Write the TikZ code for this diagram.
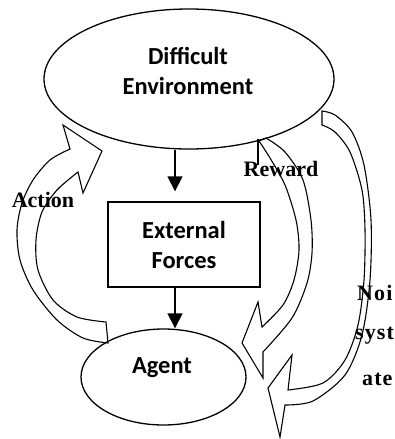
\documentclass[tikz,border=0pt]{standalone}
\usepackage{fontspec}
\setmainfont{Carlito}
\newfontfamily\labfont{Liberation Serif}
\newfontfamily\widefont[LetterSpace=5]{Liberation Serif}
\usetikzlibrary{shapes.geometric,arrows.meta}
\begin{document}
\begin{tikzpicture}[x=1pt,y=-1pt,
  ell/.style={draw, ellipse, line width=1.3pt, inner sep=0pt},
  box/.style={draw, rectangle, line width=1.3pt, inner sep=0pt},
  maintext/.style={font=\bfseries\fontsize{24.5}{30}\selectfont, align=center, inner sep=0pt},
  lab/.style={font=\labfont\bfseries\fontsize{22}{26}\selectfont, inner sep=0pt},
  widelab/.style={font=\widefont\bfseries\fontsize{22}{26}\selectfont, inner sep=0pt, anchor=west},
  arr/.style={line width=1.3pt, -{Triangle[length=15pt,width=15pt]}},
  blk/.style={draw, line width=1.1pt, line join=miter},
  thin/.style={line width=1.1pt}]
\useasboundingbox (0,0) rectangle (395,439);

% main nodes
\node[ell, minimum width=290pt, minimum height=140pt] (env) at (189,79) {};
\node[maintext] (envtext) at (188,71) {Difficult\\Environment};
\node[box, minimum width=152pt, minimum height=85pt, maintext] (forces) at (184,244.5) {External\\Forces};
\node[ell, minimum width=165pt, minimum height=96pt] (agent) at (163.5,377) {};
\node[maintext] (agenttext) at (162,368) {Agent};

% straight arrows
\coordinate (ax) at (175,0);
\draw[arr, shorten >=10pt] (ax |- env.south) -- (ax |- forces.north);
\draw[arr] (ax |- forces.south) -- (ax |- agent.north);

% Action block arrow
\draw[blk] plot[smooth] coordinates {(108,343) (83,338) (57,320) (33,290) (20,260) (17,230) (22,203) (33,180) (50,160) (70,149)}
  -- (63,125) -- (102,151) -- (83,193) -- (78,172)
  -- plot[smooth] coordinates {(78,172) (57,190) (42,212) (36,240) (38,270) (53,300) (77,317) (106,322)}
  -- cycle;

% Reward block arrow
\draw[blk] plot[smooth] coordinates {(266,138) (285,152) (303,180) (311,220) (312,253) (307,283) (292,318) (263,352)}
  -- (263,378) -- (242,343) -- (258,302) -- (262,327)
  -- plot[smooth] coordinates {(262,327) (283,305) (294,280) (299,250) (296,220) (285,185) (270,158) (259,141)}
  -- cycle;
\coordinate (rtop) at (258,139);
\coordinate (rbot) at (258,165);
\draw[thin] (rtop) -- (rbot);

% Noise block arrow
\draw[blk] plot[smooth] coordinates {(322,111) (335,115) (352,132) (364,165) (371,220) (370,280) (362,335) (345,375) (313,401) (285,405)}
  -- (280,437) -- (268,388) -- (292,355) -- (288,390)
  -- plot[smooth] coordinates {(288,390) (323,383) (345,360) (358,325) (364,280) (365,230) (362,190) (350,152) (335,132) (322,125)}
  -- cycle;

% labels
\node[lab] (action) at (43,200) {Action};
\node[lab] (reward) at (281,169) {Reward};
\node[widelab] (noise1) at (357,293) {Noi};
\node[widelab] (noise2) at (355,336) {syst};
\node[widelab] (noise3) at (362,379) {ate};
\end{tikzpicture}
\end{document}
